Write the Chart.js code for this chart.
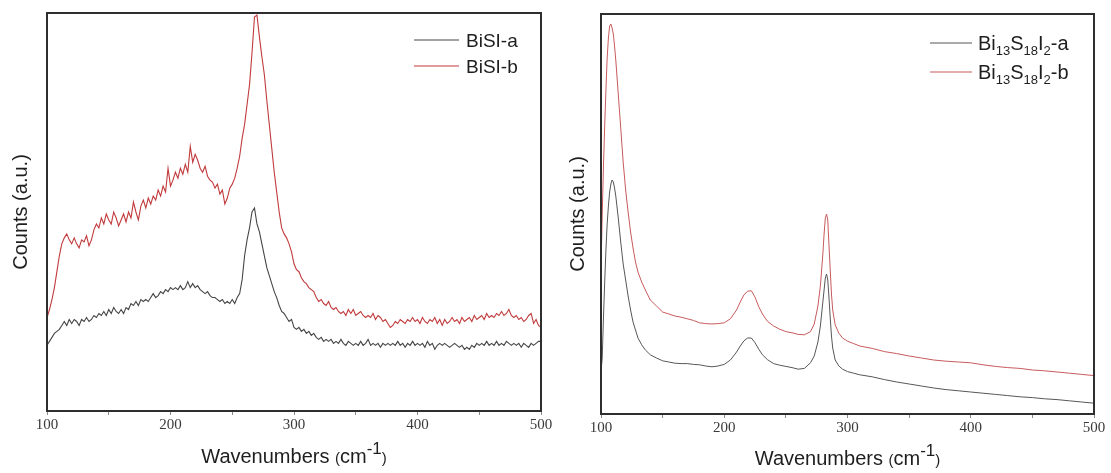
<!DOCTYPE html>
<html><head><meta charset="utf-8">
<script src="https://cdn.jsdelivr.net/npm/chart.js@4.4.1/dist/chart.umd.min.js"></script>
<style>
html,body{margin:0;padding:0;background:#fff;width:1111px;height:473px;overflow:hidden}
.p{position:absolute;top:0}
canvas{display:block}
</style></head><body>
<div class="p" style="left:0"><canvas id="c1" width="560" height="473"></canvas></div>
<div class="p" style="left:560px"><canvas id="c2" width="551" height="473"></canvas></div>
<script>
// ---------- data ----------
const leftWavenumbers = [
100,102,104,106,108,110,112,114,116,118,
120,122,124,126,128,130,132,134,136,138,
140,142,144,146,148,150,152,154,156,158,
160,162,164,166,168,170,172,174,176,178,
180,182,184,186,188,190,192,194,196,198,
200,202,204,206,208,210,212,214,216,218,
220,222,224,226,228,230,232,234,236,238,
240,242,244,246,248,250,252,254,256,258,
260,262,264,266,268,270,272,274,276,278,
280,282,284,286,288,290,292,294,296,298,
300,302,304,306,308,310,312,314,316,318,
320,322,324,326,328,330,332,334,336,338,
340,342,344,346,348,350,352,354,356,358,
360,362,364,366,368,370,372,374,376,378,
380,382,384,386,388,390,392,394,396,398,
400,402,404,406,408,410,412,414,416,418,
420,422,424,426,428,430,432,434,436,438,
440,442,444,446,448,450,452,454,456,458,
460,462,464,466,468,470,472,474,476,478,
480,482,484,486,488,490,492,494,496,498,
500];
const bisiA = [
16.5,17.5,18.5,19.5,20,20.5,21.5,22.5,21.5,23,
22,23,22.5,21.5,23,22.5,23.5,22.5,23,24,
23.5,24.5,24,25,24,25.5,24.5,26,25,24.5,
25.5,24.5,26,25.5,27,26.5,27.5,26.5,28,27.5,
28,27.5,28.5,29.5,28.5,29,30,29.5,30.5,30,
31,30.5,31,30.5,31.5,30.5,31,32.5,31,32,
31,31.5,30.5,30,29.5,30,29,28.5,28.5,28,
27.5,28,27,27.5,27,28,27,28.5,29.5,33,
39,43,46,50,51,47,45,42,39,36,
34,32,30,28.5,26.5,25,24.5,23.5,22.5,23,
21,20.5,21,20,20.5,19.5,20,19,19.5,18.5,
18,18.5,17.5,18,17.5,18,17,17.5,17,18,
17,16.5,17.5,17,16.5,17,16.5,17.5,16.5,17,
18,16.5,17,16.5,17,16,17,16.5,17,16.5,
17,16.5,17.5,16.5,17,16,17,16.5,17.5,16.5,
17,16.5,17,16,17.5,16.5,17,15.5,16.5,17,
16.5,17,16.5,16,16.5,17,16.5,16,16.5,15.5,
16,15.5,16.5,16,17,16.5,17,16.5,17.5,16.5,
17,16.5,17.5,16.5,17,16.5,17.5,17,16.5,17,
16.5,17,16,17,16.5,16,17,16.5,17,17.5,
17.5];
const bisiB = [
23.4,25.5,28,31,35,39,42,43.5,44.5,43,
42,43.5,42,41,43,42.5,44,41.5,43,45.5,
47,46,48.5,47,49.5,48,47,50,48.5,46.5,
48,49.5,47.5,50,48.5,52.5,50,48,51.5,53,
51,53.5,52,54,53,55.5,54,56.5,55,61,
56.5,58,60,58.5,61,59.5,62,60,66.5,62.5,
64.5,63,61,60,61.5,59,58,57.5,56,57,
54.5,55.5,52,53.5,56,57,58.5,61,64,68.5,
72,77,82,90,99,99.5,94,89,84.5,78,
72,66,60,55,50,46,44.5,43.5,42,40,
37,35.5,35,33.5,32.5,32,31,30.5,30,28.5,
27.5,28,27,26.5,27.5,26,25.5,26,25,24.5,
25,24,25.5,24.5,25.5,24,24.5,25,24,23.5,
24,23.5,24.5,23,24,23.5,22.5,23,22,21,
21.5,22.5,22,23,22.5,22,23,22.5,23.5,22.5,
23,22,23.5,22.5,22,23,22.5,23.5,22,23,
21.5,23,22,22.5,23.5,22.5,23,22,23.5,22.5,
23,23.5,22.5,24,23,23.5,24,23,24.5,23.5,
24,23.5,24.5,24,25,24,24.5,25.5,24,23.5,
24,23,23.5,22.5,23,24,24.5,22,23,21.5,
21];
const leftLabels = ['BiSI-a', 'BiSI-b'];

const rightWavenumbers = [100,101,102,103,104,105,106,107,108,109,110,111,112,114,116,118,120,122,124,126,128,130,133,136,140,145,150,155,160,165,170,175,180,185,190,195,200,205,210,213,216,219,222,225,228,231,235,240,245,250,255,260,265,270,273,276,278,280,281,282,283,284,285,286,287,288,290,293,296,300,305,310,320,330,340,350,360,370,380,390,400,410,420,430,440,450,460,470,480,490,500];
const bi13A = [10.5,14,24,33,41,47.5,52,55.5,57.5,58.5,58,56.5,54.5,49,43,37.5,33.5,29.5,26,23,21,19,17.3,16,14.8,14,13.3,13,12.7,12.6,12.6,12.4,12.3,12,11.8,12,12.4,13.5,15.5,17,18.3,19,19,17.8,16.2,14.8,13.6,12.6,12.2,11.9,11.6,11.2,11.4,12.8,14.5,18,22,28,31,34,35,33.5,29,24,19.5,16.5,13.5,12,11.2,10.6,10.2,9.8,9.3,8.6,8,7.5,7,6.5,6.1,5.8,5.5,5.2,4.9,4.6,4.3,4.1,3.8,3.6,3.3,3,2.7];
const bi13B = [36,50,62,72,81,89,94,97,97.5,96.5,95,92,88.5,80,71.5,63,56,50.5,45.5,41.5,38,35.5,33,31,28.5,27,25.5,25,24.5,24.2,23.8,23.4,22.8,22.6,22.5,22.6,22.8,23.8,26,28,29.8,30.7,30.8,29.2,26.8,25,23.2,22,21.2,20.6,20.3,19.9,19.8,20.6,22.5,27,32,40,45,49,50,48.5,42,36,30,26,22.3,20.2,19,18.2,17.6,17,16.4,15.6,15.1,14.5,14,13.5,13.2,13,12.8,12.3,11.9,11.6,11.4,11,10.8,10.5,10.2,9.9,9.6];
const rightLabels = ['Bi₁₃S₁₈I₂-a', 'Bi₁₃S₁₈I₂-b'];

const xTickLabels = [100, 200, 300, 400, 500];
const xAxisTitle = 'Wavenumbers (cm⁻¹)';
const yAxisTitle = 'Counts (a.u.)';

// ---------- rich text helper (sub/superscripts) ----------
const SUB = '₀₁₂₃₄₅₆₇₈₉', SUP = '⁰¹²³⁴⁵⁶⁷⁸⁹⁻';
function runsOf(text){
  const runs = [];
  for (const ch of text){
    let type = 'n', c = ch, i = SUB.indexOf(ch);
    if (i >= 0){ type = 'b'; c = String(i); }
    else { i = SUP.indexOf(ch); if (i >= 0){ type = 'p'; c = i === 10 ? '-' : String(i); } else if (ch === '(' || ch === ')') type = 'r'; }
    if (runs.length && runs[runs.length-1].type === type) runs[runs.length-1].t += c; else runs.push({type, t:c});
  }
  return runs;
}
function drawRich(ctx, text, x, y, st){
  const runs = runsOf(text);
  const sizeOf = r => r.type === 'b' ? st.sub : r.type === 'p' ? st.sup : r.type === 'r' ? (st.paren || st.size) : st.size;
  let w = 0;
  runs.forEach(r => { ctx.font = sizeOf(r) + 'px "' + st.family + '"'; r.w = ctx.measureText(r.t).width; w += r.w; });
  let cx = st.align === 'center' ? x - w/2 : x;
  ctx.fillStyle = st.color; ctx.textBaseline = 'alphabetic'; ctx.textAlign = 'left';
  runs.forEach(r => {
    ctx.font = sizeOf(r) + 'px "' + st.family + '"';
    const dy = r.type === 'b' ? st.subDy : r.type === 'p' ? st.supDy : 0;
    ctx.fillText(r.t, cx, y + dy); cx += r.w;
  });
}

function panelPlugin(g){
  return {
    id: 'panelDecor',
    afterDatasetsDraw(chart){
      const ctx = chart.ctx, a = chart.chartArea;
      ctx.save();
      // frame
      ctx.strokeStyle = '#2e2e2e'; ctx.lineWidth = 2;
      ctx.strokeRect(a.left, a.top, a.right - a.left, a.bottom - a.top);
      // legend
      chart.data.datasets.forEach((ds, i) => {
        const y = g.legend.ys[i];
        ctx.strokeStyle = ds.borderColor; ctx.lineWidth = 1.2;
        ctx.beginPath(); ctx.moveTo(g.legend.x1, y); ctx.lineTo(g.legend.x2, y); ctx.stroke();
        drawRich(ctx, ds.label, g.legend.tx, y + g.legend.size * 0.36, {
          family: 'Liberation Sans', size: g.legend.size, sub: g.legend.sub, subDy: g.legend.subDy,
          sup: g.legend.sub, supDy: -6, color: '#1e1e1e', align: 'left'});
      });
      // x axis title
      drawRich(ctx, xAxisTitle, (a.left + a.right)/2, g.xTitleY, {
        family: 'Liberation Sans', size: 20, sup: 17, supDy: -9, paren: 15, sub: 13, subDy: 4,
        color: '#1e1e1e', align: 'center'});
      ctx.restore();
    }
  };
}

Chart.defaults.font.family = 'Liberation Sans';

function makeChart(id, xs, seriesList, labels, colors, g){
  const datasets = seriesList.map((vals, k) => ({
    label: labels[k],
    data: xs.map((x, i) => ({x: x, y: vals[i]})),
    borderColor: colors[k], borderWidth: g.lw, pointRadius: 0, fill: false, tension: 0
  }));
  return new Chart(document.getElementById(id), {
    type: 'line',
    data: {datasets},
    options: {
      responsive: false, animation: false, devicePixelRatio: 1,
      layout: {padding: {left: 0, top: g.top, right: g.right, bottom: 0}},
      plugins: {legend: {display: false}, tooltip: {enabled: false}},
      scales: {
        x: {
          type: 'linear', min: 100, max: 500,
          ticks: {stepSize: 50, autoSkip: false, maxRotation: 0, padding: 1,
            font: {family: 'Liberation Serif', size: 15}, color: '#3a3a3a',
            callback: v => xTickLabels.includes(v) ? String(v) : ''},
          grid: {display: true, drawOnChartArea: false, drawTicks: true, tickLength: 4, color: '#8a8a8a'},
          border: {display: false},
          afterFit: s => { s.height = g.xh; }
        },
        y: {
          min: 0, max: 100,
          ticks: {display: false},
          grid: {display: false},
          border: {display: false},
          title: {display: true, text: yAxisTitle, color: '#1e1e1e',
            font: {family: 'Liberation Sans', size: 20}, padding: {top: g.yTitlePad, bottom: 0}},
          afterFit: s => { s.width = g.yw; }
        }
      }
    },
    plugins: [panelPlugin(g)]
  });
}

makeChart('c1', leftWavenumbers, [bisiA, bisiB], leftLabels, ['#464646', '#c13a3c'], {
  lw: 1.1, top: 13, right: 19, yw: 47, xh: 62, yTitlePad: 9.5, xTitleY: 463,
  legend: {x1: 414, x2: 459, ys: [40, 66], tx: 466, size: 19, sub: 12, subDy: 4}
});
makeChart('c2', rightWavenumbers, [bi13A, bi13B], rightLabels, ['#575757', '#c85a5c'], {
  lw: 1, top: 14, right: 17, yw: 41, xh: 59, yTitlePad: 6, xTitleY: 465,
  legend: {x1: 370, x2: 412, ys: [43, 72], tx: 418, size: 20, sub: 13, subDy: 5}
});
</script>
</body></html>
